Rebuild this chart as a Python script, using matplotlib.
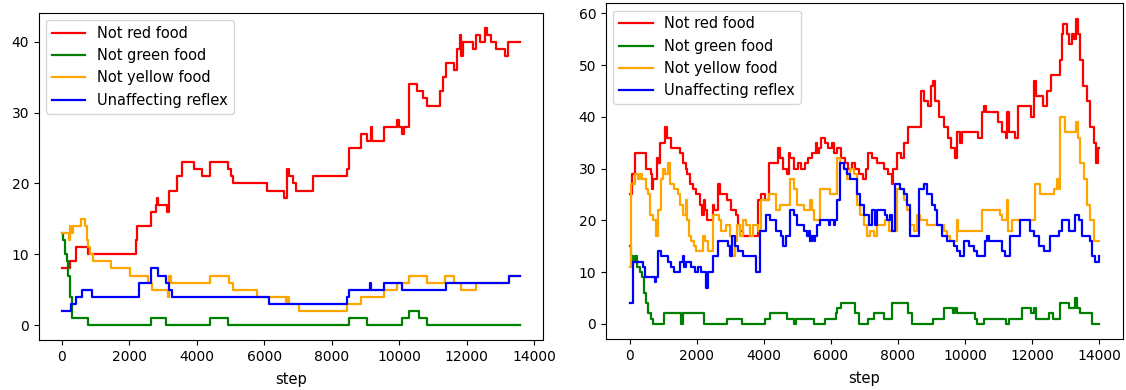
import matplotlib
matplotlib.use("Agg")
import matplotlib.pyplot as plt

# run 1: change points (step, count) for each reflex
run1_red_step = [0, 250, 420, 770, 2200, 2230, 2640, 2790, 2840, 2870, 3130, 3190, 3430, 3580, 3930,
                 4170, 4390, 4940, 5010, 5080, 6100, 6600, 6690, 6740, 6860, 6940, 7440, 8470, 8520,
                 8870, 9040, 9160, 9200, 9540, 9950, 10000, 10100, 10150, 10310, 10540, 10720, 10840,
                 11200, 11310, 11380, 11630, 11730, 11810, 11850, 11900, 12180, 12280, 12400, 12560,
                 12600, 12740, 12870, 13130, 13230, 13580]
run1_red = [8, 9, 11, 10, 12, 14, 16, 17, 18, 17, 16, 19, 21, 23, 22,
            21, 23, 22, 21, 20, 19, 18, 22, 21, 20, 19, 21, 22, 25,
            27, 26, 28, 26, 28, 29, 28, 27, 28, 34, 33, 32, 31,
            33, 35, 37, 36, 39, 41, 38, 40, 39, 41, 40, 42,
            41, 40, 39, 38, 40, 40]

run1_green_step = [0, 50, 100, 150, 200, 250, 300, 770, 2640, 3090, 4390, 4940, 8520, 9060,
                   10100, 10300, 10600, 10840, 13580]
run1_green = [13, 12, 10, 9, 7, 4, 1, 0, 1, 0, 1, 0, 1, 0,
              1, 2, 1, 0, 0]

run1_yellow_step = [0, 230, 260, 290, 330, 570, 700, 740, 770, 840, 920, 1460, 2020, 2550, 2690,
                    3140, 3190, 3235, 4390, 4960, 5080, 5800, 6640, 6680, 6740, 7030, 8470, 8870,
                    9540, 9950, 10300, 10840, 11350, 11630, 11840, 12280, 13250, 13580]
run1_yellow = [13, 12, 14, 13, 14, 15, 14, 12, 11, 10, 9, 8, 7, 6, 5,
               4, 7, 6, 7, 6, 5, 4, 3, 4, 3, 2, 3, 4,
               5, 6, 7, 6, 7, 6, 5, 6, 7, 7]

run1_blue_step = [0, 290, 420, 600, 900, 2280, 2640, 2860, 3090, 3190, 3285, 6140, 8470, 8520,
                  9140, 9180, 9540, 10100, 11380, 13250, 13580]
run1_blue = [2, 3, 4, 5, 4, 6, 8, 7, 6, 5, 4, 3, 4, 5,
             6, 5, 6, 5, 6, 7, 7]

# run 2
run2_red_step = [0, 80, 160, 480, 640, 680, 700, 808, 860, 920, 1055, 1131, 1239, 1508, 1600, 1669,
                 1723, 1800, 1885, 1992, 2100, 2154, 2208, 2262, 2316, 2477, 2531, 2639, 2693, 2908,
                 3016, 3177, 3231, 3285, 3393, 3823, 3931, 4039, 4146, 4416, 4491, 4577, 4685, 4739,
                 4793, 4900, 5008, 5116, 5223, 5331, 5439, 5547, 5600, 5654, 5708, 5816, 5924, 6031,
                 6085, 6193, 6300, 6408, 6516, 6624, 6731, 6839, 6947, 7054, 7108, 7216, 7377, 7593,
                 7701, 7808, 7862, 7970, 8078, 8185, 8293, 8670, 8778, 8885, 8993, 9047, 9101, 9208,
                 9370, 9478, 9585, 9693, 9747, 9855, 9900, 10393, 10501, 10555, 10608, 10985, 11093,
                 11201, 11255, 11309, 11470, 11578, 11847, 11955, 12062, 12116, 12332, 12439, 12547,
                 12816, 12870, 12924, 13032, 13107, 13193, 13247, 13301, 13355, 13409, 13516, 13624,
                 13732, 13839, 13893, 13947, 14000]
run2_red = [25, 29, 33, 30, 29, 26, 28, 32, 31, 35, 38, 36, 34, 33, 31, 30,
            29, 27, 26, 25, 23, 21, 24, 22, 20, 23, 22, 27, 25, 24,
            22, 21, 19, 18, 17, 24, 25, 24, 31, 34, 32, 30, 29, 33,
            32, 30, 31, 30, 31, 32, 33, 35, 33, 34, 36, 35, 34, 35,
            33, 34, 32, 31, 30, 31, 30, 29, 28, 30, 33, 32, 31, 30,
            29, 27, 30, 33, 32, 35, 38, 45, 43, 42, 46, 47, 43, 40,
            38, 36, 34, 32, 37, 35, 37, 36, 41, 42, 41, 39, 37,
            36, 41, 37, 36, 42, 42, 40, 47, 44, 42, 45, 48,
            51, 56, 58, 56, 54, 56, 55, 59, 56, 51, 46, 43,
            38, 35, 31, 34, 34]

run2_green_step = [0, 54, 108, 150, 215, 300, 377, 430, 485, 539, 646, 700, 1023, 1530, 1600, 2208,
                   2908, 3339, 4039, 4200, 4685, 4900, 4954, 5493, 5816, 6139, 6193, 6300, 6731, 6839,
                   7108, 7270, 7593, 7808, 8293, 8401, 9047, 9370, 9639, 9693, 9747, 10285, 10339,
                   10555, 11201, 11309, 11686, 11955, 12062, 12116, 12493, 12601, 12816, 13086, 13279,
                   13322, 13409, 13786, 14000]
run2_green = [15, 13, 12, 13, 11, 10, 9, 6, 4, 2, 1, 0, 2, 0, 2, 0,
              1, 0, 1, 2, 1, 0, 1, 0, 1, 2, 3, 4, 2, 0,
              1, 2, 1, 4, 2, 0, 1, 3, 2, 3, 2, 1, 0,
              1, 0, 1, 3, 2, 3, 1, 2, 1, 4, 3, 5,
              3, 2, 0, 0]

run2_yellow_step = [0, 50, 150, 250, 300, 380, 480, 550, 600, 700, 780, 850, 950, 1010, 1070, 1140,
                    1210, 1340, 1440, 1510, 1590, 1670, 1710, 1770, 1840, 1910, 1990, 2190, 2260,
                    2330, 2500, 2680, 2730, 2880, 2980, 3060, 3130, 3210, 3280, 3380, 3480, 3580,
                    3670, 3820, 3930, 4150, 4360, 4489, 4787, 4886, 4985, 5184, 5383, 5433, 5482,
                    5681, 5979, 6178, 6277, 6376, 6476, 6575, 6674, 6774, 6873, 6972, 7072, 7171,
                    7270, 7370, 7619, 7718, 7967, 8165, 8265, 8364, 8463, 8562, 8662, 8860, 9357,
                    9456, 9554, 9752, 9800, 10497, 11043, 11100, 11242, 11280, 11391, 12086, 12235,
                    12632, 12731, 12780, 12831, 12980, 13307, 13347, 13426, 13526, 13625, 13724,
                    13824, 14000]
run2_yellow = [11, 27, 29, 28, 29, 28, 26, 25, 21, 20, 17, 22, 28, 30, 29, 31,
               27, 26, 25, 23, 21, 24, 20, 17, 16, 15, 14, 17, 16,
               14, 21, 20, 18, 19, 17, 13, 16, 19, 17, 20, 19, 17,
               19, 18, 24, 25, 22, 23, 28, 26, 23, 22, 24, 22, 20,
               26, 25, 32, 31, 30, 28, 30, 29, 23, 21, 19, 17, 18,
               17, 19, 20, 18, 26, 24, 22, 19, 18, 21, 20, 19, 18,
               17, 16, 20, 18, 22, 21, 20, 24, 18, 20, 27, 25,
               26, 28, 26, 40, 37, 39, 36, 31, 28, 23, 20,
               16, 16]

run2_blue_step = [0, 100, 400, 450, 745, 794, 844, 943, 1142, 1241, 1340, 1490, 1589, 1638, 1688,
                  1838, 1937, 2036, 2135, 2284, 2334, 2483, 2632, 2929, 2979, 3059, 3128, 3227,
                  3376, 3773, 3893, 4071, 4171, 4369, 4518, 4568, 4667, 4787, 4886, 4985, 5184,
                  5284, 5333, 5383, 5433, 5482, 5532, 5582, 5681, 5929, 5979, 6078, 6128, 6178,
                  6277, 6376, 6476, 6575, 6774, 6873, 6972, 7121, 7221, 7320, 7370, 7619, 7668,
                  7768, 7817, 7917, 8066, 8165, 8265, 8364, 8612, 8761, 8860, 9009, 9109, 9158,
                  9307, 9456, 9653, 9752, 9852, 9951, 10100, 10249, 10348, 10596, 10646, 10700,
                  11093, 11192, 11321, 11639, 11937, 12036, 12185, 12334, 12533, 12781, 12881,
                  13079, 13278, 13377, 13476, 13724, 13774, 13873, 13973]
run2_blue = [4, 12, 11, 9, 8, 9, 14, 13, 12, 11, 10, 12, 13, 11, 12,
             11, 10, 11, 10, 7, 10, 13, 16, 15, 13, 17, 15, 14,
             13, 10, 18, 21, 20, 18, 17, 15, 17, 22, 21, 19, 18,
             17, 18, 16, 17, 16, 17, 19, 20, 19, 20, 19, 20, 24,
             31, 30, 29, 28, 25, 23, 21, 19, 22, 19, 22, 21, 20,
             21, 18, 27, 26, 25, 23, 17, 26, 27, 25, 23, 22, 19,
             17, 16, 15, 14, 13, 16, 15, 14, 13, 16, 17, 16,
             14, 13, 17, 20, 18, 17, 15, 14, 17, 18, 20,
             18, 21, 20, 17, 16, 13, 12, 13]

labels = ["Not red food", "Not green food", "Not yellow food", "Unaffecting reflex"]
colors = ["red", "green", "orange", "blue"]

runs = [
    [(run1_red_step, run1_red), (run1_green_step, run1_green),
     (run1_yellow_step, run1_yellow), (run1_blue_step, run1_blue)],
    [(run2_red_step, run2_red), (run2_green_step, run2_green),
     (run2_yellow_step, run2_yellow), (run2_blue_step, run2_blue)],
]

fig = plt.figure(figsize=(11.26, 3.9), dpi=100)
ax1 = fig.add_axes([0.0344, 0.1282, 0.4476, 0.8392])
ax2 = fig.add_axes([0.5382, 0.1308, 0.4591, 0.8608])

for ax, run in zip([ax1, ax2], runs):
    for (x, y), lab, c in zip(run, labels, colors):
        ax.plot(x, y, drawstyle="steps-post", color=c, label=lab, lw=1.6)
    ax.legend(loc="upper left", fontsize=10.5, handlelength=2.3)
    ax.set_xlabel("step", fontsize=10.5, labelpad=6)

plt.savefig("out.png")
